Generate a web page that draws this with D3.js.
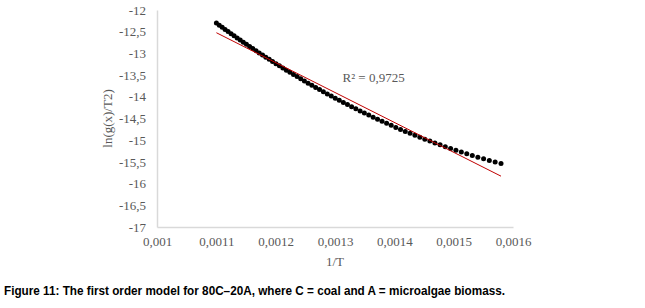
<!DOCTYPE html>
<html>
<head>
<meta charset="utf-8">
<script src="https://cdn.jsdelivr.net/npm/d3@7/dist/d3.min.js"></script>
<style>
  body { margin: 0; background: #fff; }
  .tick-label { font-family: "Liberation Serif", "Times New Roman", serif; font-size: 13px; fill: #595959; }
</style>
</head>
<body>
<div id="chart"></div>
<script>

// 1/T values of the measured points
var invT = [
  0.0011001, 0.0011050, 0.0011099, 0.0011148, 0.0011198, 0.0011249, 0.0011299, 0.0011351,
  0.0011403, 0.0011455, 0.0011507, 0.0011561, 0.0011614, 0.0011669, 0.0011723, 0.0011779,
  0.0011834, 0.0011891, 0.0011947, 0.0012005, 0.0012063, 0.0012121, 0.0012180, 0.0012240,
  0.0012300, 0.0012361, 0.0012422, 0.0012484, 0.0012547, 0.0012610, 0.0012674, 0.0012739,
  0.0012804, 0.0012870, 0.0012937, 0.0013004, 0.0013072, 0.0013141, 0.0013210, 0.0013280,
  0.0013351, 0.0013423, 0.0013495, 0.0013569, 0.0013643, 0.0013717, 0.0013793, 0.0013870,
  0.0013947, 0.0014025, 0.0014104, 0.0014184, 0.0014265, 0.0014347, 0.0014430, 0.0014514,
  0.0014599, 0.0014684, 0.0014771, 0.0014859, 0.0014948, 0.0015038, 0.0015129, 0.0015221,
  0.0015314, 0.0015408, 0.0015504, 0.0015601, 0.0015699, 0.0015798
];

// ln(g(x)/T^2) values
var lnG = [
  -12.301, -12.350, -12.398, -12.447, -12.495, -12.545, -12.593, -12.643,
  -12.692, -12.741, -12.790, -12.840, -12.888, -12.939, -12.988, -13.038,
  -13.087, -13.137, -13.186, -13.237, -13.286, -13.336, -13.386, -13.436,
  -13.485, -13.535, -13.585, -13.635, -13.685, -13.734, -13.784, -13.834,
  -13.883, -13.933, -13.983, -14.032, -14.081, -14.130, -14.179, -14.228,
  -14.276, -14.325, -14.373, -14.422, -14.469, -14.517, -14.564, -14.612,
  -14.658, -14.705, -14.751, -14.797, -14.842, -14.888, -14.932, -14.977,
  -15.021, -15.064, -15.107, -15.149, -15.191, -15.233, -15.273, -15.313,
  -15.352, -15.391, -15.429, -15.466, -15.502, -15.537
];

var xTicks = [0.001, 0.0011, 0.0012, 0.0013, 0.0014, 0.0015, 0.0016];
var yTicks = [-12, -12.5, -13, -13.5, -14, -14.5, -15, -15.5, -16, -16.5, -17];
var r2Label = "R\u00b2 = 0,9725";

var width = 645, height = 308;
var margin = {top: 10, left: 157, right: 132, bottom: 81};
var plotW = width - margin.left - margin.right,
    plotH = height - margin.top - margin.bottom;

var svg = d3.select("#chart").append("svg")
  .attr("width", width)
  .attr("height", height);

var g = svg.append("g")
  .attr("transform", "translate(" + margin.left + "," + margin.top + ")");

// Scales
var x = d3.scaleLinear().domain([0.001, 0.0016]).range([0, plotW]);
var y = d3.scaleLinear().domain([-17, -12]).range([plotH, 0]);

var fmt = function(d) { return String(+d.toFixed(4)).replace(".", ","); };

// Axes
var xAxis = d3.axisBottom(x).tickValues(xTicks).tickSize(0).tickPadding(10).tickFormat(fmt);
var yAxis = d3.axisLeft(y).tickValues(yTicks).tickSize(0).tickPadding(11).tickFormat(fmt);

var gx = g.append("g")
  .attr("transform", "translate(0," + plotH + ")")
  .call(xAxis);
var gy = g.append("g").call(yAxis);

[gx, gy].forEach(function(ax) {
  ax.select(".domain").attr("stroke", "#d9d9d9").attr("stroke-width", 1.5);
  ax.selectAll("text").attr("class", "tick-label").attr("fill", "#595959");
});

// Points
var points = invT.map(function(v, i) { return {x: v, y: lnG[i]}; });

g.selectAll("circle.pt")
  .data(points)
  .enter()
  .append("circle")
  .attr("class", "pt")
  .attr("cx", function(d) { return x(d.x); })
  .attr("cy", function(d) { return y(d.y); })
  .attr("r", 2.5)
  .attr("fill", "#000");

// Linear trendline (least squares)
var mx = d3.mean(points, function(d) { return d.x; }),
    my = d3.mean(points, function(d) { return d.y; });
var sxy = d3.sum(points, function(d) { return (d.x - mx) * (d.y - my); }),
    sxx = d3.sum(points, function(d) { return (d.x - mx) * (d.x - mx); });
var slope = sxy / sxx, icpt = my - slope * mx;
var xEnds = d3.extent(invT);

g.append("line")
  .attr("x1", x(xEnds[0])).attr("y1", y(slope * xEnds[0] + icpt))
  .attr("x2", x(xEnds[1])).attr("y2", y(slope * xEnds[1] + icpt))
  .attr("stroke", "#c00000")
  .attr("stroke-width", 1);

// R² label
g.append("text")
  .attr("class", "tick-label")
  .attr("x", x(0.0013127))
  .attr("y", y(-13.65))
  .attr("fill", "#404040")
  .text(r2Label);

// Axis titles
svg.append("text")
  .attr("class", "tick-label")
  .attr("text-anchor", "middle")
  .attr("x", margin.left + plotW / 2)
  .attr("y", 266)
  .text("1/T");

svg.append("text")
  .attr("class", "tick-label")
  .attr("text-anchor", "middle")
  .attr("transform", "translate(112," + (margin.top + plotH / 2) + ")rotate(-90)")
  .text("ln(g(x)/T2)");

// Caption
svg.append("text")
  .attr("x", 4)
  .attr("y", 295)
  .attr("textLength", 501)
  .attr("lengthAdjust", "spacingAndGlyphs")
  .style("font-family", "'Liberation Sans', Arial, sans-serif")
  .style("font-weight", "bold")
  .style("font-size", "13.5px")
  .style("fill", "#000")
  .text("Figure 11: The first order model for 80C\u201320A, where C = coal and A = microalgae biomass.");

</script>
</body>
</html>
